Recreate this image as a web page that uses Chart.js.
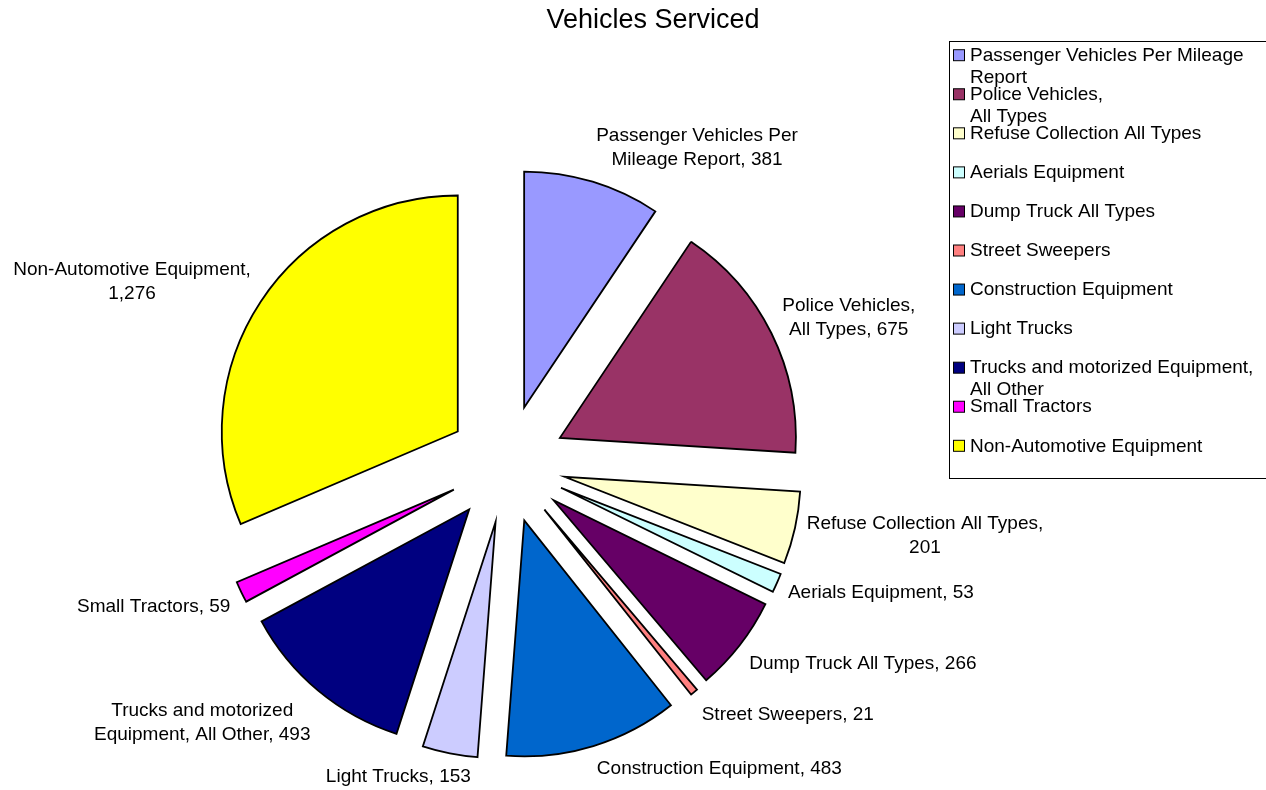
<!DOCTYPE html>
<html>
<head>
<meta charset="utf-8">
<title>Vehicles Serviced</title>
<script src="https://cdn.jsdelivr.net/npm/chart.js@4.4.1/dist/chart.umd.min.js"></script>
<style>
  html, body { margin: 0; padding: 0; background: #fff; }
  canvas { display: block; }
</style>
</head>
<body>
<canvas id="pie-chart" width="1266" height="790"></canvas>
<script>
// data
const categories = [
    'Passenger Vehicles Per Mileage Report',
    'Police Vehicles,\nAll Types',
    'Refuse Collection All Types',
    'Aerials Equipment',
    'Dump Truck All Types',
    'Street Sweepers',
    'Construction Equipment',
    'Light Trucks',
    'Trucks and motorized Equipment, All Other',
    'Small Tractors',
    'Non-Automotive Equipment'
]
const vehicles = [381, 675, 201, 53, 266, 21, 483, 153, 493, 59, 1276]
const sliceColors = ['#9999FF', '#993366', '#FFFFCC', '#CCFFFF', '#660066', '#FF8080',
    '#0066CC', '#CCCCFF', '#000080', '#FF00FF', '#FFFF00']
const chartTitle = 'Vehicles Serviced'

const FONT = '"Liberation Sans", Arial, Helvetica, sans-serif'
const RADIUS = 236     // pie radius in px
const EXPLODE = 59     // how far each slice is pulled out

//wrap text to a max width, keeping explicit line breaks
function wrapText(ctx, text, maxWidth) {
    let lines = []
    text.split('\n').forEach(par => {
        let words = par.split(' ')
        let line = ''
        words.forEach(w => {
            let test = line ? line + ' ' + w : w
            if (line && ctx.measureText(test).width > maxWidth) {
                lines.push(line)
                line = w
            } else {
                line = test
            }
        })
        lines.push(line)
    })
    return lines
}

//pull every slice out by the same distance along its middle angle
//(chart.js' own offset option also trims the slice angles, so move the arcs instead)
const evenExplode = {
    id: 'evenExplode',
    beforeDatasetsDraw(chart) {
        const area = chart.chartArea
        const cx = (area.left + area.right) / 2
        const cy = (area.top + area.bottom) / 2
        chart.getDatasetMeta(0).data.forEach(arc => {
            let mid = (arc.startAngle + arc.endAngle) / 2
            arc.x = cx + Math.cos(mid) * EXPLODE
            arc.y = cy + Math.sin(mid) * EXPLODE
        })
    }
}

//title, slice labels and legend box
const decorations = {
    id: 'decorations',
    afterDatasetsDraw(chart) {
        const ctx = chart.ctx
        const area = chart.chartArea
        const pcx = (area.left + area.right) / 2
        const pcy = (area.top + area.bottom) / 2
        ctx.save()
        ctx.fillStyle = '#000'
        ctx.textBaseline = 'middle'

        // title
        ctx.font = '27px ' + FONT
        ctx.textAlign = 'center'
        ctx.fillText(chartTitle, 653, 21)

        // slice labels
        ctx.font = '19px ' + FONT
        const lineH = 24
        chart.getDatasetMeta(0).data.forEach((arc, i) => {
            let text = categories[i] + ', ' + vehicles[i].toLocaleString('en-US')
            let lines = wrapText(ctx, text, 262)
            let w = Math.max(...lines.map(l => ctx.measureText(l).width))
            let h = lines.length * lineH
            let mid = (arc.startAngle + arc.endAngle) / 2
            let dx = Math.cos(mid), dy = Math.sin(mid)
            let dist = RADIUS + EXPLODE + 12
            let ax = pcx + dx * dist
            let ay = pcy + dy * dist
            let cx = ax + Math.max(-1, Math.min(1, dx * 3.5)) * w / 2
            let cy = ay + dy * h / 2 + (dy > 0.42 && dy < 0.9 ? 4 : 0)
            lines.forEach((l, j) => {
                ctx.fillText(l, cx, cy - h / 2 + lineH / 2 + j * lineH)
            })
        })

        // legend
        ctx.strokeStyle = '#000'
        ctx.lineWidth = 1
        ctx.strokeRect(949.5, 41.5, 330, 437)
        ctx.textAlign = 'left'
        categories.forEach((name, i) => {
            let y = 55.7 + 39.06 * i
            ctx.fillStyle = sliceColors[i]
            ctx.fillRect(953.5, y - 6, 11, 11)
            ctx.strokeRect(953.5, y - 6, 11, 11)
            ctx.fillStyle = '#000'
            let lines = wrapText(ctx, name, 296)
            lines.forEach((l, j) => ctx.fillText(l, 970, y + j * 22))
        })
        ctx.restore()
    }
}

new Chart(document.querySelector('#pie-chart'), {
    type: 'pie',
    data: {
        labels: categories,
        datasets: [{
            data: vehicles,
            backgroundColor: sliceColors,
            borderColor: '#000',
            borderWidth: 1.8,
            borderJoinStyle: 'miter',
            radius: RADIUS,
            clip: false
        }]
    },
    options: {
        responsive: false,
        animation: false,
        layout: { padding: { left: 0, right: 252, top: 138, bottom: 0 } },
        plugins: {
            legend: { display: false },
            title: { display: false },
            tooltip: { enabled: false }
        }
    },
    plugins: [evenExplode, decorations]
})
</script>
</body>
</html>
